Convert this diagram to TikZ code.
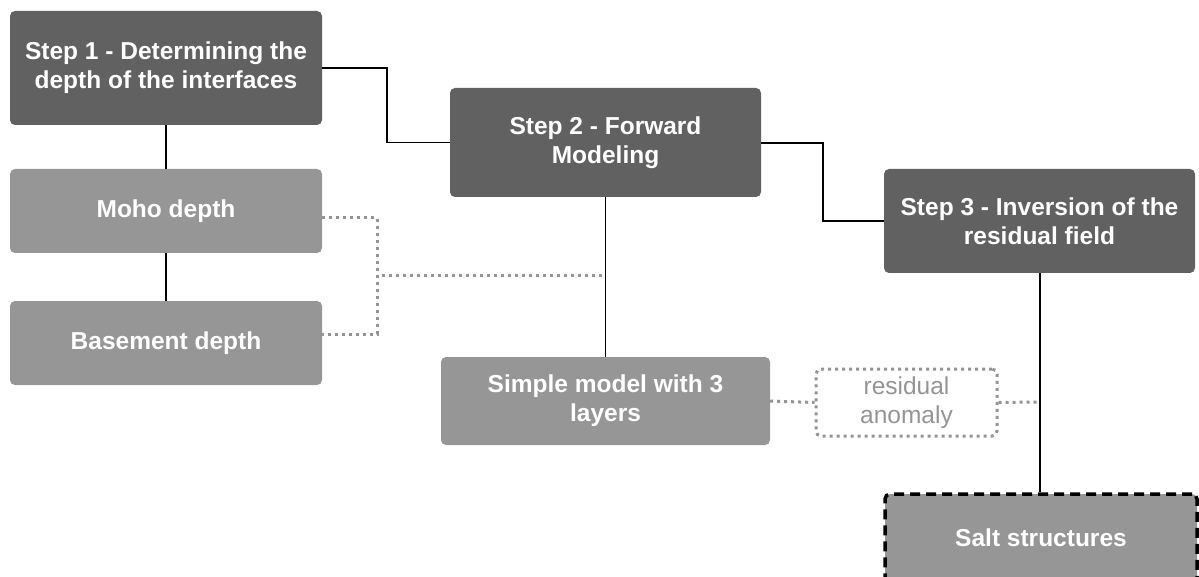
\documentclass[tikz,border=0pt]{standalone}
\usepackage{fontspec}
\setmainfont{Liberation Sans}
\begin{document}
\begin{tikzpicture}[x=1pt,y=-1pt,
  box/.style={rectangle, rounded corners=5pt, inner sep=0pt, align=center, font=\fontsize{24.5}{29}\selectfont\bfseries, text=white},
  dark/.style={box, fill=black!62},
  light/.style={box, fill=black!41},
  conn/.style={line width=1.3pt, black},
  dots/.style={line width=3pt, black!42, dash pattern=on 3pt off 4pt},
]
\useasboundingbox (0,0) rectangle (1199,577);
\begin{scope}
\clip (0,0) rectangle (1199,577);
\node[dark, minimum width=312pt, minimum height=114pt] (s1) at (166,68) {Step 1 - Determining the\\depth of the interfaces};
\node[dark, minimum width=311pt, minimum height=109pt] (s2) at (605.5,142.5) {Step 2 - Forward\\Modeling};
\node[dark, minimum width=311pt, minimum height=104pt] (s3) at (1039.5,221) {Step 3 - Inversion of the\\residual field};
\node[light, minimum width=312pt, minimum height=84pt] (moho) at (166,211) {Moho depth};
\node[light, minimum width=312pt, minimum height=84pt] (base) at (166,343) {Basement depth};
\node[light, minimum width=329pt, minimum height=88pt] (simple) at (605.5,401) {Simple model with 3\\layers};
\node[rectangle, rounded corners=5pt, inner sep=0pt, align=center, minimum width=181pt, minimum height=67pt, draw=black!42, line width=3pt, dash pattern=on 3pt off 4pt, text=black!42, font=\fontsize{24.5}{29}\selectfont] (res) at (906.5,402.5) {residual\\anomaly};
\node[light, minimum width=312pt, minimum height=100pt, draw=black, line width=3.5pt, dash pattern=on 10pt off 6pt] (salt) at (1041,544) {};
\node[font=\fontsize{24.5}{29}\selectfont\bfseries, text=white] (saltt) at (1041,538) {Salt structures};

\coordinate (j1) at (387,68);
\coordinate (j2) at (823,143);
\coordinate (jd) at (377,276);
\coordinate (jr) at (1040,402);

\draw[conn] (s1.east |- j1) -- (j1) |- (s2.west);
\draw[conn] (s2.east |- j2) -- (j2) |- (s3.west);
\draw[conn] (s1.south) -- (moho.north);
\draw[conn] (moho.south) -- (base.north);
\draw[conn] (s2.south) -- (simple.north);
\draw[conn] (s3.south -| jr) -- (salt.north -| jr);

\draw[dots] (moho.east |- 0,218) -| (jd |- 0,218) -- (jd |- 0,334) -- (base.east |- 0,334);
\draw[dots] (382,276) -- (s2.south |- jd);
\draw[dots] (simple.east) -- (res.west);
\draw[dots] (res.east) -- (jr);
\end{scope}
\end{tikzpicture}
\end{document}
